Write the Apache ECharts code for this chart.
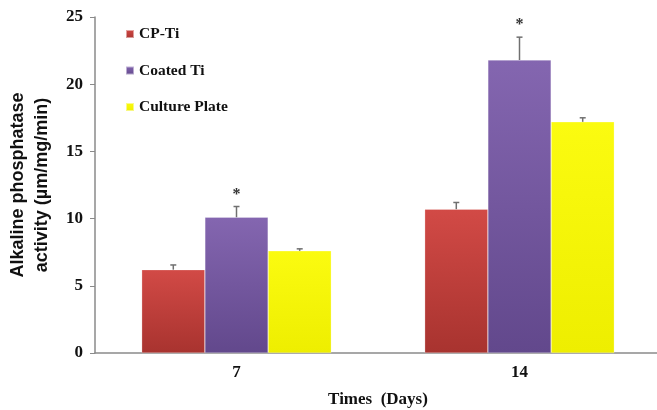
<!DOCTYPE html>
<html>
<head>
<meta charset="utf-8">
<script src="https://cdn.jsdelivr.net/npm/echarts@6/dist/echarts.min.js"></script>
<style>
  html, body { margin: 0; padding: 0; background: #fff; }
  #chart { width: 657px; height: 410px; }
</style>
</head>
<body>
<div id="chart"></div>
<script>
// data
const days = ['7', '14'];
const seriesNames = ['CP-Ti', 'Coated Ti', 'Culture Plate'];
const cpTi = [6.2, 10.7];
const coatedTi = [10.1, 21.8];
const culturePlate = [7.6, 17.2];
const cpTiErr = [0.35, 0.5];
const coatedTiErr = [0.8, 1.7];
const culturePlateErr = [0.15, 0.3];
const starred = [false, true, false]; // which series gets the "*"

const values = [cpTi, coatedTi, culturePlate];
const errors = [cpTiErr, coatedTiErr, culturePlateErr];

const font = 'Liberation Serif';
const colors = [
  ['#d24a46', '#a8332f'],
  ['#8466b0', '#62488c'],
  ['#fbfb10', '#eeee00']
];

const chart = echarts.init(document.getElementById('chart'));

// error bars (+ asterisk) drawn with a custom series
const errData = [];
values.forEach((vals, s) => {
  vals.forEach((v, i) => {
    errData.push([i, v, v + errors[s][i], s]);
  });
});

const barSeries = seriesNames.map((name, s) => ({
  name: name,
  type: 'bar',
  barGap: '0%',
  barCategoryGap: '33%',
  itemStyle: {
    color: new echarts.graphic.LinearGradient(0, 0, 0, 1, [
      { offset: 0, color: colors[s][0] },
      { offset: 1, color: colors[s][1] }
    ]),
    borderColor: 'rgba(255,255,255,0.5)',
    borderWidth: 0.5
  },
  data: values[s]
}));

const option = {
  animation: false,
  textStyle: { fontFamily: font },
  grid: { left: 95, right: -4, top: 17, bottom: 57, outerBoundsMode: 'none' },
  legend: {
    orient: 'vertical',
    left: 120,
    top: 21,
    itemWidth: 8,
    itemHeight: 8,
    itemGap: 20.5,
    icon: 'rect',
    data: seriesNames,
    textStyle: { fontFamily: font, fontWeight: 'bold', fontSize: 15.5, color: '#111' }
  },
  xAxis: {
    type: 'category',
    data: days,
    name: 'Times  (Days)',
    nameLocation: 'middle',
    nameGap: 38,
    nameTextStyle: { fontFamily: font, fontWeight: 'bold', fontSize: 17, color: '#111' },
    axisLine: { lineStyle: { color: '#8a8a8a', width: 1.5 } },
    axisTick: { lineStyle: { color: '#8a8a8a' }, length: 5 },
    axisLabel: { fontFamily: font, fontWeight: 'bold', fontSize: 17, color: '#111', margin: 11 }
  },
  yAxis: {
    type: 'value',
    min: 0,
    max: 25,
    interval: 5,
    name: 'Alkaline phosphatase\nactivity (µm/mg/min)',
    nameLocation: 'middle',
    nameRotate: 90,
    nameGap: 41,
    nameTextStyle: {
      fontFamily: '"Liberation Sans", sans-serif',
      fontWeight: 'bold', fontSize: 18, color: '#111', lineHeight: 24
    },
    axisLine: { show: true, lineStyle: { color: '#8a8a8a', width: 1.5 } },
    axisTick: { show: true, lineStyle: { color: '#8a8a8a' }, length: 5 },
    splitLine: { show: false },
    axisLabel: { fontFamily: font, fontWeight: 'bold', fontSize: 17, color: '#111', margin: 12 }
  },
  series: barSeries.concat([{
    type: 'custom',
    z: 5,
    data: errData,
    encode: { x: 0, y: [1, 2] },
    renderItem: function (params, api) {
      const cat = api.value(0);
      const s = api.value(3);
      const band = api.size([1, 0])[0];
      const bw = band * 0.67 / 3;
      const base = api.coord([cat, api.value(1)]);
      const top = api.coord([cat, api.value(2)]);
      const x = base[0] + (s - 1) * bw;
      const children = [
        { type: 'line', shape: { x1: x, y1: base[1], x2: x, y2: top[1] },
          style: { stroke: '#707070', lineWidth: 1.5 } },
        { type: 'line', shape: { x1: x - 3, y1: top[1], x2: x + 3, y2: top[1] },
          style: { stroke: '#707070', lineWidth: 1.5 } }
      ];
      if (starred[s]) {
        children.push({
          type: 'text',
          style: { x: x, y: top[1] - 12, text: '*', fill: '#333',
            font: 'bold 16px "Liberation Serif"', align: 'center', verticalAlign: 'middle' }
        });
      }
      return { type: 'group', children: children };
    }
  }])
};

chart.setOption(option);
</script>
</body>
</html>
